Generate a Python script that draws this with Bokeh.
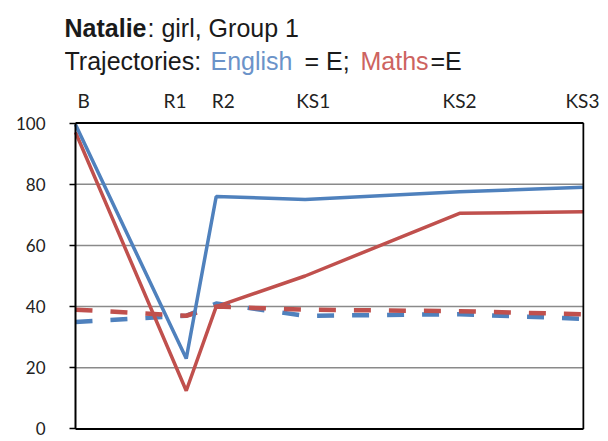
from bokeh.plotting import figure
from bokeh.models import Range1d, FixedTicker, ColumnDataSource, Label
from bokeh.layouts import column
from bokeh.embed import file_html
from bokeh.resources import INLINE

# ---- data ----
stages = ["B", "R1", "R2", "KS1", "KS2", "KS3"]
stage_x = [0, 21.8, 27.7, 45.2, 75.6, 100]          # position of each assessment on the time axis
label_x = [1.6, 19.6, 29.1, 46.8, 75.6, 99.8]       # where the stage names are printed
english = [99.5, 23, 76, 75, 77.5, 79]
maths = [97, 12.5, 40, 50, 70.5, 71]
english_traj = [35, 37, 41, 37, 37.5, 36]
maths_traj = [39, 37, 40, 39, 38.5, 37.5]
y_ticks = [0, 20, 40, 60, 80, 100]

title_pieces = ["Natalie", ": girl, Group 1", "Trajectories:", "English", "= E;", "Maths", "=E"]
title_colors = ["#1a1a1a", "#1a1a1a", "#1a1a1a", "#6b93c9", "#1a1a1a", "#cd6360", "#1a1a1a"]
title_styles = ["bold", "normal", "normal", "normal", "normal", "normal", "normal"]

BLUE = "#4F81BD"
RED = "#C0504D"
W = 600
TH = 80
LEFT = 64
RIGHT = 16
FW = W - LEFT - RIGHT

# ---- title strip ----
t = figure(width=W, height=TH, output_backend="svg", toolbar_location=None,
           x_range=Range1d(0, FW), y_range=Range1d(TH, 0),
           min_border_left=LEFT, min_border_right=RIGHT, min_border_top=0, min_border_bottom=0,
           outline_line_color=None)
t.axis.visible = False
t.grid.visible = False
t.background_fill_color = "white"
t.border_fill_color = "white"
tx = [0, 83, 0, 146, 240, 296, 366]
ty = [27, 27, 60, 60, 60, 60, 60]
for txt, x, y, col, sty in zip(title_pieces, tx, ty, title_colors, title_styles):
    t.add_layout(Label(x=x, y=y, text=txt, text_color=col, text_font_style=sty,
                       text_font="Liberation Sans", text_font_size="25px",
                       text_baseline="alphabetic", text_align="left"))

# ---- chart ----
src = ColumnDataSource(dict(x=stage_x, english=english, maths=maths,
                            english_traj=english_traj, maths_traj=maths_traj))

x0, x1 = stage_x[0], stage_x[-1]
y0, y1 = y_ticks[0], y_ticks[-1]
p = figure(width=W, height=359, output_backend="svg", toolbar_location=None,
           x_range=Range1d(x0 - 2.165, x1 + 0.2), y_range=Range1d(y0 - 0.5, y1 + 0.5),
           x_axis_location="above",
           min_border_left=LEFT, min_border_right=RIGHT, min_border_top=41, min_border_bottom=9)
p.background_fill_color = "white"
p.border_fill_color = "white"
p.outline_line_color = None
p.grid.visible = False

# horizontal grid lines between the axis and the right edge of the box
gy = y_ticks[1:-1]
p.segment(x0=[x0] * len(gy), y0=gy, x1=[x1] * len(gy), y1=gy,
          line_color="#8a8a8a", line_width=1.5)

ya = p.yaxis[0]
ya.ticker = FixedTicker(ticks=y_ticks)
ya.axis_line_color = None
ya.major_tick_line_color = "black"
ya.major_tick_line_width = 1.5
ya.major_tick_out = -5
ya.major_tick_in = 11
ya.minor_tick_line_color = None
ya.major_label_standoff = 19
ya.major_label_text_font = "Lato"
ya.major_label_text_font_size = "17px"
ya.major_label_text_color = "#222222"

xa = p.xaxis[0]
xa.ticker = FixedTicker(ticks=label_x)
xa.major_label_overrides = {lx: s for lx, s in zip(label_x, stages)}
xa.axis_line_color = None
xa.major_tick_line_color = None
xa.minor_tick_line_color = None
xa.major_label_standoff = 4
xa.major_label_text_font = "Lato"
xa.major_label_text_font_size = "19px"
xa.major_label_text_color = "#222222"

p.line("x", "english_traj", source=src, line_color=BLUE, line_width=4.5, line_dash="17 18")
p.line("x", "maths_traj", source=src, line_color=RED, line_width=4.5, line_dash="17 18")
p.line("x", "maths", source=src, line_color=RED, line_width=3.5)
p.line("x", "english", source=src, line_color=BLUE, line_width=3.5)

# box round the plotting area: left axis, top, right and bottom edges
p.segment(x0=[x0, x0, x1, x0], y0=[y0, y1, y0, y0],
          x1=[x0, x1, x1, x1], y1=[y1, y1, y1, y0],
          line_color="black", line_width=2)

layout = column(t, p, spacing=0)
open("out.html", "w").write(file_html(layout, INLINE))
